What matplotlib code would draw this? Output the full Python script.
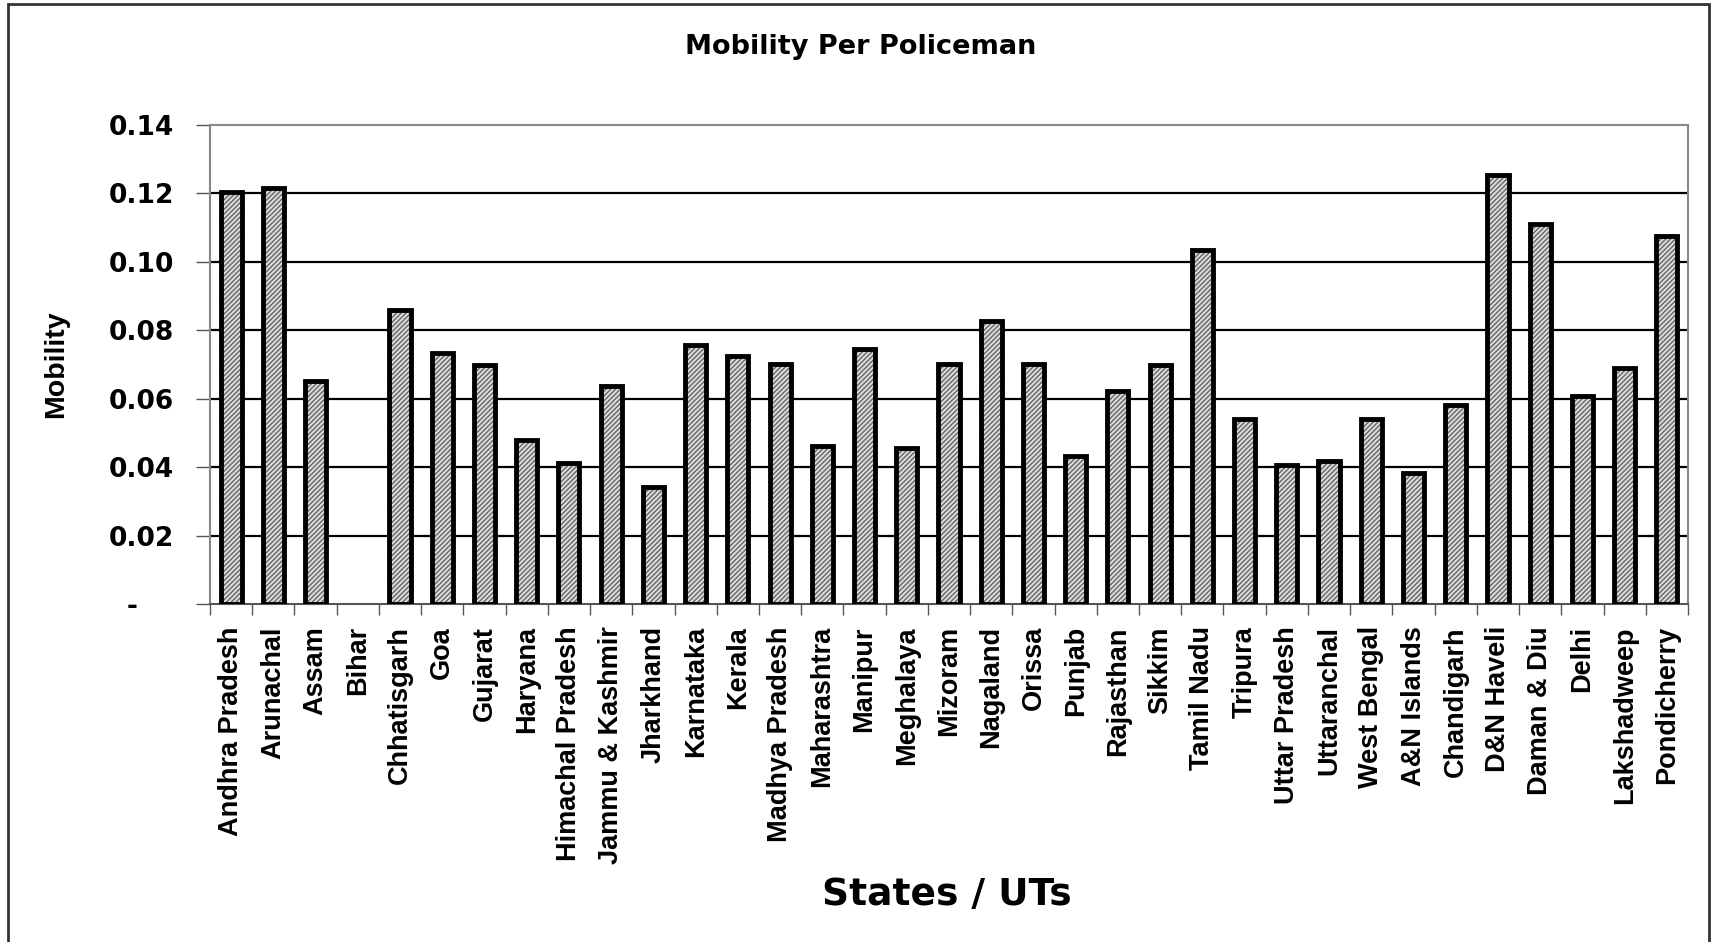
import matplotlib
matplotlib.use("Agg")
import matplotlib.pyplot as plt
from matplotlib.patches import Rectangle
import numpy as np

# Data
states = ["Andhra Pradesh", "Arunachal", "Assam", "Bihar", "Chhatisgarh", "Goa",
          "Gujarat", "Haryana", "Himachal Pradesh", "Jammu & Kashmir", "Jharkhand",
          "Karnataka", "Kerala", "Madhya Pradesh", "Maharashtra", "Manipur",
          "Meghalaya", "Mizoram", "Nagaland", "Orissa", "Punjab", "Rajasthan",
          "Sikkim", "Tamil Nadu", "Tripura", "Uttar Pradesh", "Uttaranchal",
          "West Bengal", "A&N Islands", "Chandigarh", "D&N Haveli", "Daman & Diu",
          "Delhi", "Lakshadweep", "Pondicherry"]
mobility = [0.1204, 0.1217, 0.0651, 0.0, 0.0860, 0.0733,
            0.0698, 0.0480, 0.0411, 0.0638, 0.0341,
            0.0758, 0.0724, 0.0702, 0.0461, 0.0746,
            0.0455, 0.0702, 0.0828, 0.0702, 0.0433, 0.0623,
            0.0698, 0.1034, 0.0540, 0.0405, 0.0417,
            0.0540, 0.0382, 0.0582, 0.1253, 0.1110,
            0.0607, 0.0689, 0.1075]
y_ticks = [0.0, 0.02, 0.04, 0.06, 0.08, 0.10, 0.12, 0.14]
y_ticklabels = ["-    ", "0.02", "0.04", "0.06", "0.08", "0.10", "0.12", "0.14"]

W, H = 1715, 942
fig = plt.figure(figsize=(W / 100, H / 100), dpi=100)
ax = fig.add_axes([210 / W, 1 - 604 / H, (1688 - 210) / W, (604 - 125) / H])

x = np.arange(len(states))

# grid lines behind bars
for v in y_ticks[1:-1]:
    ax.axhline(v, color="black", lw=1.6, zorder=1)

# hatched fill, then thick black outline (no outline for empty bars)
plt.rcParams["hatch.linewidth"] = 1.0
edges = ["black" if v > 0 else "none" for v in mobility]
ax.bar(x, mobility, width=0.5, color="#dcdcdc", edgecolor="#666666",
       hatch="///////", linewidth=0, zorder=2)
ax.bar(x, mobility, width=0.5, fill=False, edgecolor=edges, linewidth=3.5, zorder=3)

ax.set_xlim(-0.5, len(states) - 0.5)
ax.set_ylim(0, 0.14)

ax.set_yticks(y_ticks)
ax.set_yticklabels(y_ticklabels, fontsize=19, fontweight="bold", family="DejaVu Sans")
ax.tick_params(axis="y", direction="out", length=10, width=1, color="#555555", pad=16)

ax.set_xticks(x)
ax.set_xticklabels(states, rotation=90, fontsize=19.5, fontweight="bold",
                   family="Liberation Sans")
ax.tick_params(axis="x", length=0, pad=16)
ax.set_xticks(np.arange(len(states) + 1) - 0.5, minor=True)
ax.tick_params(axis="x", which="minor", direction="out", length=8, width=1, color="#555555")

for side in ["top", "right", "left"]:
    ax.spines[side].set_color("#888888")
    ax.spines[side].set_linewidth(1.5)
ax.spines["bottom"].set_color("#555555")
ax.spines["bottom"].set_linewidth(1.5)

ax.set_ylabel("Mobility", fontsize=20.5, fontweight="bold", family="Liberation Sans")
ax.yaxis.set_label_coords(-141 / (1688 - 210), 0.5)

fig.text(861 / W, 1 - 47 / H, "Mobility Per Policeman", ha="center", va="center",
         fontsize=19.5, fontweight="bold", family="DejaVu Sans")
fig.text(947 / W, 1 - 895 / H, "States / UTs", ha="center", va="center",
         fontsize=27, fontweight="bold", family="DejaVu Sans")

# outer chart border
fig.patches.append(Rectangle((8 / W, -0.02), (1709 - 8) / W, 1.02 - 4 / H,
                             transform=fig.transFigure, fill=False,
                             edgecolor="#333333", linewidth=2))

fig.savefig("out.png", dpi=100)
